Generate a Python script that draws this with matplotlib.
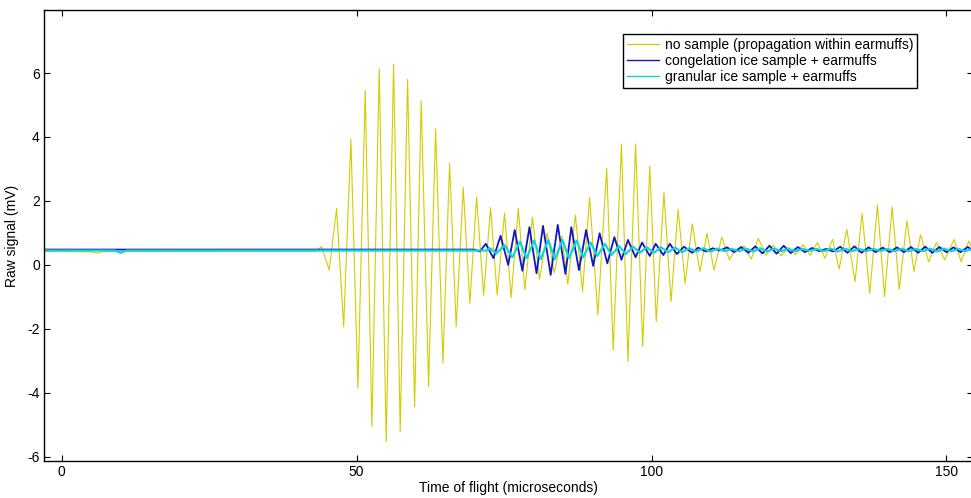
import matplotlib
matplotlib.use('Agg')
from matplotlib import pyplot as plt

# time of flight (microseconds) and raw signal (mV) at each turning point

# no sample (propagation within earmuffs)
t_none = [-3.0, 5.0, 6.0, 7.0, 43.0, 44.07, 45.36, 46.61, 47.80, 49.03, 50.22, 51.46, 52.59,
          53.83, 55.02, 56.27, 57.39, 58.64, 59.83, 60.95, 62.20, 63.39, 64.63, 65.76,
          66.88, 68.07, 69.20, 70.34, 71.53, 72.71, 73.83, 75.08, 76.20, 77.42, 78.52,
          79.80, 81.0, 82.3, 83.5, 84.8, 85.8, 87.1, 88.3, 89.5, 90.9, 92.4, 93.5, 94.9,
          96.0, 97.3, 98.5, 99.7, 100.8, 102.1, 103.3, 104.5, 105.7, 106.9, 108.2, 109.4,
          110.6, 111.9, 113.2, 114.3, 114.9, 115.7, 116.9, 118.1, 119.4, 120.6, 122.0,
          123.2, 124.4, 125.7, 126.9, 128.1, 129.4, 130.7, 131.8, 133.1, 134.5, 135.7,
          137.0, 138.3, 139.5, 140.8, 142.0, 143.3, 144.5, 145.6, 147.0, 148.3, 149.7,
          151.3, 152.5, 153.8, 155.0]
v_none = [0.42, 0.41, 0.37, 0.42, 0.43, 0.57, -0.16, 1.77, -1.93, 3.93, -3.85, 5.45, -5.05,
          6.13, -5.52, 6.27, -5.21, 5.80, -4.43, 5.13, -3.80, 4.25, -3.07, 3.18,
          -1.93, 2.43, -1.20, 2.13, -0.94, 1.79, -0.94, 1.62, -1.02, 1.77, -0.78,
          1.49, -0.45, 1.00, -0.25, 0.90, -0.60, 1.56, -0.83, 2.11, -1.56, 3.02, -2.66, 3.78,
          -3.02, 3.78, -2.55, 3.09, -1.77, 2.26, -1.15, 1.74, -0.57, 1.28, -0.21, 0.99,
          -0.16, 0.87, 0.16, 0.50, 0.40, 0.60, 0.18, 0.83, 0.30, 0.62, 0.28,
          0.55, 0.32, 0.63, 0.30, 0.70, 0.21, 0.80, -0.13, 1.11, -0.52, 1.61,
          -0.89, 1.88, -0.99, 1.82, -0.76, 1.38, -0.21, 0.94, 0.10, 0.70, 0.16,
          0.80, 0.10, 0.75, 0.20]

# congelation ice sample + earmuffs
t_cong = [-3.0, 70.0, 70.9, 71.9, 73.2, 74.4, 75.7, 76.8, 78.1, 79.3, 80.5, 81.6, 82.9,
          84.1, 85.4, 86.4, 87.7, 88.9, 90.1, 91.2, 92.5, 93.7, 94.9, 96.0, 97.3, 98.4,
          99.7, 100.7, 102.0, 103.1, 104.3, 105.5, 106.9, 107.9, 109.2, 110.4, 111.6,
          112.8, 114.0, 115.2, 116.4, 117.6, 118.8, 120.0, 121.2, 122.4, 123.6, 124.8,
          126.0, 127.2, 128.4, 129.6, 130.8, 132.0, 133.2, 134.4, 135.6, 136.8, 138.0,
          139.2, 140.4, 141.6, 142.8, 144.0, 145.2, 146.4, 147.6, 148.8, 150.0, 151.2,
          152.4, 153.6, 154.8]
v_cong = [0.48, 0.48, 0.42, 0.66, 0.21, 0.91, 0.00, 1.09, -0.18, 1.18, -0.26, 1.22, -0.31,
          1.25, -0.28, 1.18, -0.16, 1.09, -0.03, 0.99, 0.05, 0.87, 0.16, 0.78, 0.24, 0.70,
          0.28, 0.66, 0.31, 0.66, 0.34, 0.57, 0.38, 0.54, 0.42, 0.52, 0.45,
          0.55, 0.40, 0.56, 0.38, 0.58, 0.36, 0.60, 0.35, 0.60, 0.37, 0.56,
          0.40, 0.53, 0.43, 0.50, 0.42, 0.57, 0.38, 0.58, 0.38, 0.55, 0.40,
          0.54, 0.40, 0.55, 0.40, 0.56, 0.38, 0.57, 0.38, 0.56, 0.40, 0.55,
          0.40, 0.56, 0.42]

# granular ice sample + earmuffs
t_gran = [-3.0, 9.0, 10.0, 11.0, 72.0, 72.6, 73.7, 75.1, 76.4, 77.7, 78.8, 80.1, 81.2,
          82.5, 83.6, 84.9, 86.0, 87.3, 88.4, 89.7, 90.8, 92.1, 93.2, 94.5, 95.6, 96.9,
          98.0, 99.2, 100.4, 101.6, 102.8, 104.0, 105.2, 106.4, 107.6, 108.8, 110.0,
          111.2, 112.4, 113.6, 114.8, 116.0, 117.2, 118.4, 119.6, 120.8, 122.0, 123.2,
          124.4, 125.6, 126.8, 128.0, 129.2, 130.4, 131.6, 132.8, 134.0, 135.2, 136.4,
          137.6, 138.8, 140.0, 141.2, 142.4, 143.6, 144.8, 146.0, 147.2, 148.4, 149.6,
          150.8, 152.0, 153.2, 154.4, 155.0]
v_gran = [0.45, 0.45, 0.38, 0.45, 0.45, 0.52, 0.36, 0.62, 0.24, 0.73, 0.21, 0.76, 0.18,
          0.78, 0.18, 0.78, 0.21, 0.76, 0.24, 0.70, 0.28, 0.66, 0.31, 0.59, 0.34, 0.57,
          0.38, 0.55, 0.38, 0.55, 0.40, 0.54, 0.40, 0.52, 0.42, 0.52, 0.42,
          0.51, 0.43, 0.50, 0.43, 0.51, 0.42, 0.52, 0.42, 0.51, 0.43, 0.50,
          0.43, 0.50, 0.44, 0.50, 0.43, 0.51, 0.42, 0.51, 0.43, 0.50, 0.43,
          0.50, 0.44, 0.50, 0.43, 0.51, 0.43, 0.50, 0.43, 0.51, 0.42, 0.51,
          0.43, 0.50, 0.43, 0.50, 0.46]

labels = ['no sample (propagation within earmuffs)',
          'congelation ice sample + earmuffs',
          'granular ice sample + earmuffs']

plt.rcParams['font.family'] = ['Liberation Sans', 'DejaVu Sans']
plt.rcParams['font.size'] = 10
plt.rcParams['axes.unicode_minus'] = False

fig = plt.figure(figsize=(9.71, 4.98), dpi=100)
# axes run a little past the right edge, like the cropped original
ax = fig.add_axes([44 / 971, 37 / 498, 929 / 971, 451 / 498])

ax.plot(t_none, v_none, color='#d4cc00', lw=0.8, label=labels[0])
ax.plot(t_cong, v_cong, color='#1414c8', lw=1.3, label=labels[1])
ax.plot(t_gran, v_gran, color='#10d4dc', lw=1.6, label=labels[2])

ax.set_xlim(-3, 154.5)
ax.set_ylim(-6.13, 7.97)
ax.set_xticks([0, 50, 100, 150])
ax.set_yticks([-6, -4, -2, 0, 2, 4, 6])
ax.tick_params(direction='in', top=True, right=True, length=4, width=0.8,
               labelsize=10, pad=3)
for s in ax.spines.values():
    s.set_linewidth(1.0)

ax.set_xlabel('Time of flight (microseconds)', fontsize=10, labelpad=1)
ax.set_ylabel('Raw signal (mV)', fontsize=10, labelpad=6)

leg = ax.legend(loc='upper right', bbox_to_anchor=(0.94, 0.947), fontsize=10,
                fancybox=False, framealpha=1, edgecolor='black',
                handlelength=2.3, handletextpad=0.4, borderpad=0.3,
                labelspacing=0.15, borderaxespad=0)
leg.get_frame().set_linewidth(1.0)
for line in leg.get_lines():
    line.set_linewidth(1.0)

plt.savefig('out.png', dpi=100)
